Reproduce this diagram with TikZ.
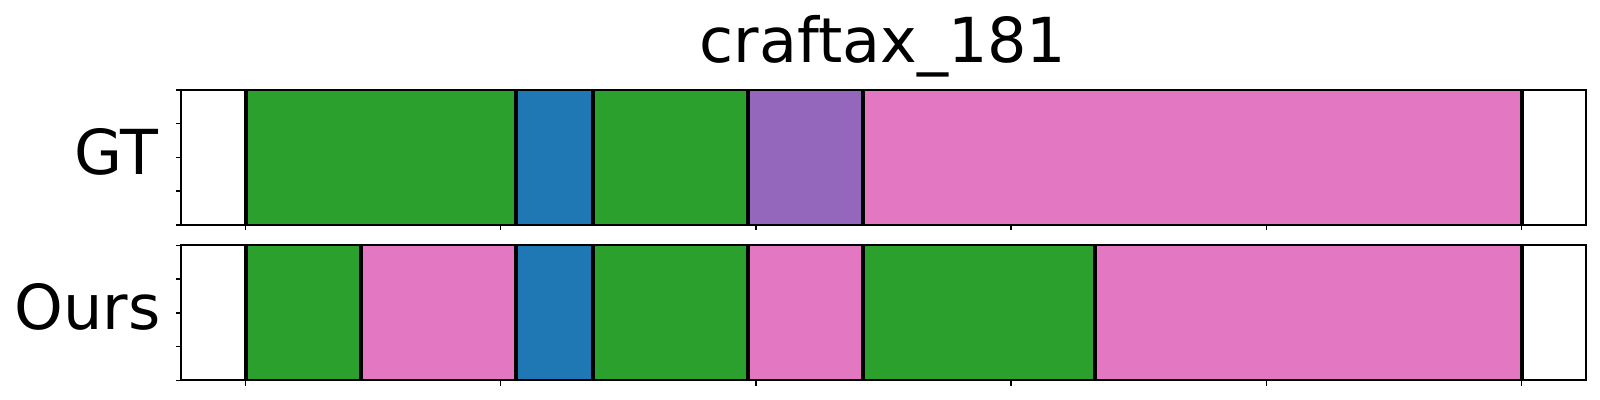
\documentclass[tikz,border=0pt]{standalone}
\usepackage{fontspec}
\setmainfont{DejaVu Sans}
\definecolor{tabgreen}{HTML}{2CA02C}
\definecolor{tabblue}{HTML}{1F77B4}
\definecolor{tabpurple}{HTML}{9467BD}
\definecolor{tabpink}{HTML}{E377C2}

\begin{document}
\begin{tikzpicture}[x=0.5pt,y=-0.5pt,
  bound/.style={line width=2pt,black},
  spine/.style={line width=1pt,black},
  tick/.style={line width=0.75pt,black},
  lbl/.style={inner sep=0pt,font=\fontsize{31}{37}\selectfont}]
\useasboundingbox (0,0) rectangle (1600,400);
% Title over both panels
\node[lbl,anchor=base] (title) at (883,63) {craftax\_181};
% Top panel: ground truth segments
\foreach \a/\b/\c in {0/1.059/tabgreen, 1.059/1.362/tabblue, 1.362/1.969/tabgreen, 1.969/2.4185/tabpurple, 2.4185/5/tabpink}
  \fill[\c] ({245.5+255.2*\a},90) rectangle ({245.5+255.2*\b},225);
\foreach \a in {0,1.059,1.362,1.969,2.4185,5}
  \draw[bound] ({245.5+255.2*\a},90) -- ({245.5+255.2*\a},225);
% Bottom panel: predicted segments
\foreach \a/\b/\c in {0/0.4526/tabgreen, 0.4526/1.059/tabpink, 1.059/1.362/tabblue, 1.362/1.969/tabgreen, 1.969/2.4185/tabpink, 2.4185/3.3276/tabgreen, 3.3276/5/tabpink}
  \fill[\c] ({245.5+255.2*\a},245.5) rectangle ({245.5+255.2*\b},380.5);
\foreach \a in {0,0.4526,1.059,1.362,1.969,2.4185,3.3276,5}
  \draw[bound] ({245.5+255.2*\a},245.5) -- ({245.5+255.2*\a},380.5);
% Frames and ticks of both panels
\foreach \t in {90,245.5} {
  \draw[spine] (181,\t) rectangle (1585.5,\t+135);
  \foreach \k in {0,...,4}
    \draw[tick] (181,\t+33.75*\k) -- ++(-5.5,0);
  \foreach \k in {0,...,5}
    \draw[tick] ({245.5+255.2*\k},\t+135) -- ++(0,5.5);
}
% Row labels
\node[lbl,anchor=base east] (gt) at (158.5,175) {GT};
\node[lbl,anchor=base east] (ours) at (161,329.5) {Ours};
\end{tikzpicture}
\end{document}
